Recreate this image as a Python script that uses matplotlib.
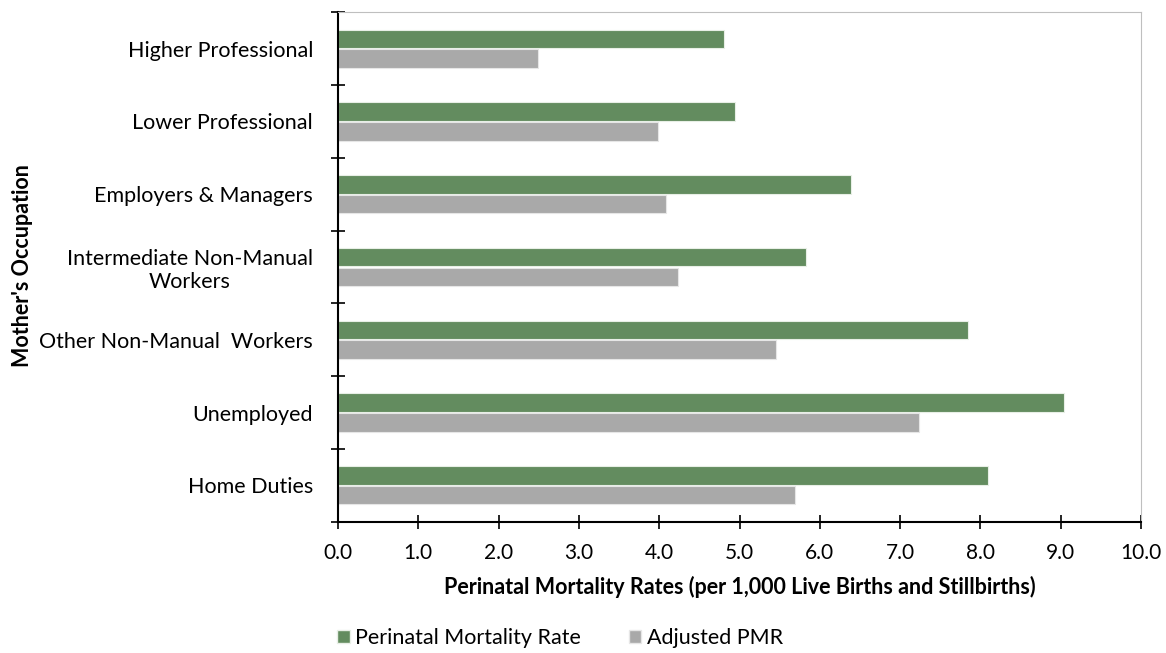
import numpy as np
import matplotlib
matplotlib.use('Agg')
import matplotlib.pyplot as plt
from matplotlib.patches import Patch

plt.rcParams['font.family'] = ['Lato', 'DejaVu Sans']

# data
occupations = [
    'Higher Professional',
    'Lower Professional',
    'Employers & Managers',
    'Intermediate Non-Manual\nWorkers',
    'Other Non-Manual  Workers',
    'Unemployed',
    'Home Duties',
]
pmr = [4.81, 4.95, 6.39, 5.83, 7.84, 9.04, 8.09]
adjusted_pmr = [2.49, 3.99, 4.09, 4.23, 5.45, 7.24, 5.69]

green = '#638c5f'
grey = '#a9a9a9'

fig = plt.figure(figsize=(11.66, 6.53), dpi=100)
ax = fig.add_axes([338 / 1166, 1 - 521.7 / 653, (1141 - 338) / 1166, (521.7 - 12.3) / 653])

y = np.arange(len(occupations))
h = 0.255
ax.barh(y - h / 2 - 0.007, pmr, height=h, color=green, edgecolor='#e8efe6', linewidth=0.8)
ax.barh(y + h / 2 + 0.007, adjusted_pmr, height=h, color=grey, edgecolor='#e6e6e6', linewidth=0.8)

ax.set_xlim(0, 10)
ax.set_ylim(len(occupations) - 0.5, -0.5)

ax.set_xticks(np.arange(0, 11, 1))
ax.set_xticklabels([f'{v:.1f}' for v in np.arange(0, 11, 1)], fontsize=15)
ax.tick_params(axis='x', direction='inout', length=10, width=1.2, pad=10)

ax.set_yticks(y)
ax.set_yticklabels(occupations, fontsize=15.5, multialignment='center')
ax.tick_params(axis='y', length=0, pad=18)
ax.set_yticks(np.arange(-0.5, len(occupations), 1), minor=True)
ax.tick_params(axis='y', which='minor', direction='inout', length=10, width=1.2)

for side in ['top', 'right']:
    ax.spines[side].set_color('#bfbfbf')
for side in ['left', 'bottom']:
    ax.spines[side].set_color('black')
    ax.spines[side].set_linewidth(1.5)

ax.set_xlabel('Perinatal Mortality Rates (per 1,000 Live Births and Stillbirths)',
              fontsize=15.5, fontweight='bold', labelpad=10)
fig.text(23 / 1166, 1 - 266 / 653, "Mother's Occupation", rotation=90,
         fontsize=15.5, fontweight='bold', ha='center', va='center')

handles = [Patch(facecolor=green, edgecolor='#e8efe6'),
           Patch(facecolor=grey, edgecolor='#e6e6e6')]
fig.legend(handles, ['Perinatal Mortality Rate', 'Adjusted PMR'],
           loc='center', bbox_to_anchor=(560 / 1166, 1 - 638 / 653),
           ncol=2, frameon=False, fontsize=15.5, handlelength=0.6, handleheight=0.6,
           handletextpad=0.25, columnspacing=2.2, borderpad=0)

plt.savefig('out.png', dpi=100)
